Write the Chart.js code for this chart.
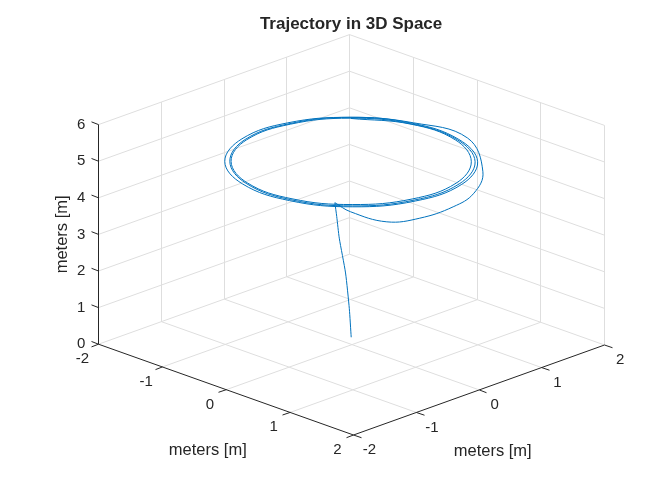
<!DOCTYPE html>
<html>
<head>
<meta charset="utf-8">
<script src="https://cdn.jsdelivr.net/npm/chart.js@4.4.0/dist/chart.umd.min.js"></script>
<style>
	body { margin: 0; background: #ffffff; }
	#wrap { width: 656px; height: 486px; }
</style>
</head>
<body>
<div id="wrap"><canvas id="myChart" width="656" height="486"></canvas></div>
<script>
// take-off (meters)
var climb_x = [0, 0, -0.01, -0.02, -0.03, -0.03];
var climb_y = [0, -0.03, -0.08, -0.17, -0.2, -0.23];
var climb_z = [0.2, 1.0, 2.0, 3.0, 3.6, 4.0];

// spiral out and the circles at ~5 m
var loop_x = [-0.03, 0.41, 1.08, 1.42, 1.57, 1.54, 1.22, 0.4,
	-0.36, -0.98, -1.35, -1.36, -1.0, -0.37, 0.37, 1.0, 1.37, 1.37, 1.0,
	0.36, -0.36, -0.98, -1.32, -1.32, -0.96, -0.35, 0.36, 0.98, 1.34, 1.34, 0.98,
	0.36, -0.35, -0.96, -1.3, -1.3, -0.95, -0.35, 0.35, 0.95, 1.3, 1.3, 0.95,
	0.35, -0.35, -0.95];
var loop_y = [-0.23, -0.43, -0.53, -0.35, 0.03, 0.39, 0.86, 1.45,
	1.36, 0.98, 0.36, -0.36, -1.0, -1.36, -1.36, -1.0, -0.37, 0.37, 1.0,
	1.35, 1.34, 0.98, 0.35, -0.35, -0.96, -1.32, -1.33, -0.98, -0.36, 0.36, 0.98,
	1.33, 1.32, 0.96, 0.35, -0.35, -0.95, -1.3, -1.3, -0.95, -0.35, 0.35, 0.95,
	1.31, 1.31, 0.96];
var loop_z = [4.0, 4.15, 4.35, 4.55, 4.72, 4.85, 4.95, 5.0,
	5, 5, 5, 5, 5, 5, 5, 5, 5, 5, 5,
	5, 5, 5, 5, 5, 5, 5, 5, 5, 5, 5, 5,
	5, 5, 5, 5, 5, 5, 5, 5, 5, 5, 5, 5,
	5, 5, 5];

var x_ticks = [-2, -1, 0, 1, 2];
var y_ticks = [-2, -1, 0, 1, 2];
var z_ticks = [0, 1, 2, 3, 4, 5, 6];

var chart_title = "Trajectory in 3D Space";
var x_label = "meters [m]";
var y_label = "meters [m]";
var z_label = "meters [m]";

// view of the box (az ~45, el ~22), plane units = px
var view = { ox: 351.2, oy: 344.6, ex: [63.75, 22.7], ey: [62.7, -22.5], ez: [0, -36.6] };

function project(x, y, z) {
	return {
		x: view.ox + x * view.ex[0] + y * view.ey[0] + z * view.ez[0],
		y: view.oy + x * view.ex[1] + y * view.ey[1] + z * view.ez[1],
	};
}

function toPoints(xs, ys, zs) {
	var pts = [];
	for (let i = 0; i < xs.length; i++) {
		pts.push(project(xs[i], ys[i], zs[i]));
	}
	return pts;
}

var FONT = '"Liberation Sans", Arial, Helvetica, sans-serif';
var GRID = "#dedede";
var AXIS = "#262626";

function px(chart, p) {
	return { x: chart.scales.x.getPixelForValue(p.x), y: chart.scales.y.getPixelForValue(p.y) };
}

function seg(chart, a, b, color) {
	var ctx = chart.ctx;
	var p1 = px(chart, project(a[0], a[1], a[2]));
	var p2 = px(chart, project(b[0], b[1], b[2]));
	ctx.strokeStyle = color;
	ctx.beginPath();
	ctx.moveTo(Math.round(p1.x) + 0.5, p1.y);
	ctx.lineTo(Math.round(p2.x) + 0.5, p2.y);
	ctx.stroke();
}

function text(chart, str, p, dx, dy, align) {
	var q = px(chart, p);
	chart.ctx.textAlign = align;
	chart.ctx.fillText(str, q.x + dx, q.y + dy);
}

var xmin = x_ticks[0], xmax = x_ticks[x_ticks.length - 1];
var ymin = y_ticks[0], ymax = y_ticks[y_ticks.length - 1];
var zmin = z_ticks[0], zmax = z_ticks[z_ticks.length - 1];

const boxPlugin = {
	id: "box3d",
	beforeDatasetsDraw(chart) {
		var ctx = chart.ctx;
		ctx.save();
		ctx.lineWidth = 1;
		// floor grid
		x_ticks.forEach(function (v) {
			if (v != xmax) seg(chart, [v, ymin, zmin], [v, ymax, zmin], GRID);
		});
		y_ticks.forEach(function (v) {
			if (v != ymin) seg(chart, [xmin, v, zmin], [xmax, v, zmin], GRID);
		});
		// back-left wall (x = xmin)
		y_ticks.forEach(function (v) {
			if (v != ymin) seg(chart, [xmin, v, zmin], [xmin, v, zmax], GRID);
		});
		z_ticks.forEach(function (v) {
			if (v != zmin) seg(chart, [xmin, ymin, v], [xmin, ymax, v], GRID);
		});
		// back-right wall (y = ymax)
		x_ticks.forEach(function (v) {
			seg(chart, [v, ymax, zmin], [v, ymax, zmax], GRID);
		});
		z_ticks.forEach(function (v) {
			if (v != zmin) seg(chart, [xmin, ymax, v], [xmax, ymax, v], GRID);
		});
		// axis lines + ticks
		seg(chart, [xmin, ymin, zmin], [xmax, ymin, zmin], AXIS);
		seg(chart, [xmax, ymin, zmin], [xmax, ymax, zmin], AXIS);
		seg(chart, [xmin, ymin, zmin], [xmin, ymin, zmax], AXIS);
		x_ticks.forEach(function (v) {
			seg(chart, [v, ymin, zmin], [v, ymin - 0.12, zmin], AXIS);
		});
		y_ticks.forEach(function (v) {
			seg(chart, [xmax, v, zmin], [xmax + 0.12, v, zmin], AXIS);
		});
		z_ticks.forEach(function (v) {
			seg(chart, [xmin, ymin, v], [xmin - 0.12, ymin, v], AXIS);
		});
		ctx.restore();
	},
	afterDraw(chart) {
		var ctx = chart.ctx;
		ctx.save();
		ctx.fillStyle = AXIS;
		ctx.textBaseline = "middle";
		ctx.font = "15px " + FONT;
		x_ticks.forEach(function (v) {
			text(chart, String(v), project(v, ymin, zmin), -16, 15, "center");
		});
		y_ticks.forEach(function (v) {
			text(chart, String(v), project(xmax, v, zmin), 16, 15, "center");
		});
		z_ticks.forEach(function (v) {
			text(chart, String(v), project(xmin, ymin, v), -13, 0, "right");
		});
		ctx.font = "16.5px " + FONT;
		text(chart, x_label, project(0, ymin, zmin), -18, 61, "center");
		text(chart, y_label, project(xmax, 0, zmin), 14, 61, "center");
		var zl = px(chart, project(xmin, ymin, (zmin + zmax) / 2));
		ctx.save();
		ctx.translate(zl.x - 36, zl.y);
		ctx.rotate(-Math.PI / 2);
		ctx.textAlign = "center";
		ctx.fillText(z_label, 0, 0);
		ctx.restore();
		ctx.font = "bold 17px " + FONT;
		text(chart, chart_title, project(xmin, ymax, zmax), 2, -10, "center");
		ctx.restore();
	},
};

const data = {
	datasets: [
		{
			label: "climb",
			data: toPoints(climb_x, climb_y, climb_z),
			showLine: true,
			borderColor: "#0072BD",
			borderWidth: 1,
			pointRadius: 0,
			tension: 0.2,
		},
		{
			label: "loops",
			data: toPoints(loop_x, loop_y, loop_z),
			showLine: true,
			borderColor: "#0072BD",
			borderWidth: 1,
			pointRadius: 0,
			tension: 0.4,
		},
	],
};

const config = {
	type: "scatter",
	data: data,
	options: {
		responsive: false,
		animation: false,
		layout: { padding: 0 },
		plugins: {
			legend: { display: false },
			tooltip: { enabled: false },
		},
		scales: {
			x: { type: "linear", min: 0, max: 656, display: false },
			y: { type: "linear", min: 0, max: 486, reverse: true, display: false },
		},
	},
	plugins: [boxPlugin],
};

const myChart = new Chart(document.getElementById("myChart"), config);
</script>
</body>
</html>
